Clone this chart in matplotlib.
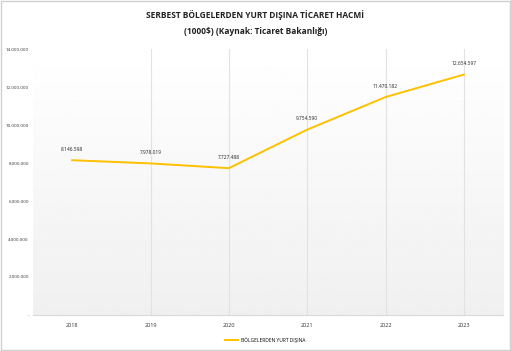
import matplotlib.pyplot as plt
import numpy as np

years = ["2018", "2019", "2020", "2021", "2022", "2023"]
values = [8146598, 7978019, 7727488, 9754590, 11470182, 12654597]
value_labels = ["8.146.598", "7.978.019", "7.727.488", "9.754.590", "11.470.182", "12.654.597"]
yticks = [0, 2000000, 4000000, 6000000, 8000000, 10000000, 12000000, 14000000]
ytick_labels = ["-", "2.000.000", "4.000.000", "6.000.000", "8.000.000",
                "10.000.000", "12.000.000", "14.000.000"]

plt.rcParams["font.family"] = ["Open Sans", "DejaVu Sans"]

fig = plt.figure(figsize=(5.11, 3.51), dpi=100)
ax = fig.add_axes([33 / 511, 1 - 315 / 351, 470 / 511, 266 / 351])

x = np.arange(len(years))
ax.set_xlim(-0.5, len(years) - 0.5)
ax.set_ylim(0, 14000000)

# soft gradient background like the original
grad = np.linspace(1.0, 0.94, 256).reshape(-1, 1)
ax.imshow(grad, cmap="gray", vmin=0, vmax=1, aspect="auto",
          extent=[-0.5, len(years) - 0.5, 0, 14000000], zorder=0)

for xi in x[1:]:
    ax.axvline(xi, color="#e2e2e2", lw=0.8, zorder=1)

line, = ax.plot(x, values, color="#FFC000", lw=1.4, zorder=3,
                label="BÖLGELERDEN YURT DIŞINA")
for xi, v, lab in zip(x, values, value_labels):
    ax.annotate(lab, (xi, v), xytext=(0, 6), textcoords="offset points",
                ha="center", va="bottom", fontsize=3.5, color="#222222")

ax.set_xticks(x)
ax.set_xticklabels(years, fontsize=4, color="#333333")
ax.set_yticks(yticks)
ax.set_yticklabels(ytick_labels, fontsize=3.2, color="#333333")
ax.tick_params(axis="y", length=0, pad=3)
ax.tick_params(axis="x", length=0, pad=6)
for s in ["top", "right", "left"]:
    ax.spines[s].set_visible(False)
ax.spines["bottom"].set_color("#d9d9d9")

fig.text(0.5, 1 - 15 / 351, "SERBEST BÖLGELERDEN YURT DIŞINA TİCARET HACMİ",
         ha="center", va="center", fontsize=6, fontweight="bold", color="#222222")
fig.text(0.5, 1 - 32 / 351, "(1000$) (Kaynak: Ticaret Bakanlığı)",
         ha="center", va="center", fontsize=6, fontweight="bold", color="#222222")

fig.legend(handles=[line], loc="center", bbox_to_anchor=(0.52, 1 - 340 / 351),
           frameon=False, fontsize=3.5, handlelength=2.5)

fig.patches.append(plt.Rectangle((0.002, 0.003), 0.996, 0.994, transform=fig.transFigure,
                                 fill=False, edgecolor="#d0d0d0", lw=1))

fig.savefig("out.png", dpi=100)
